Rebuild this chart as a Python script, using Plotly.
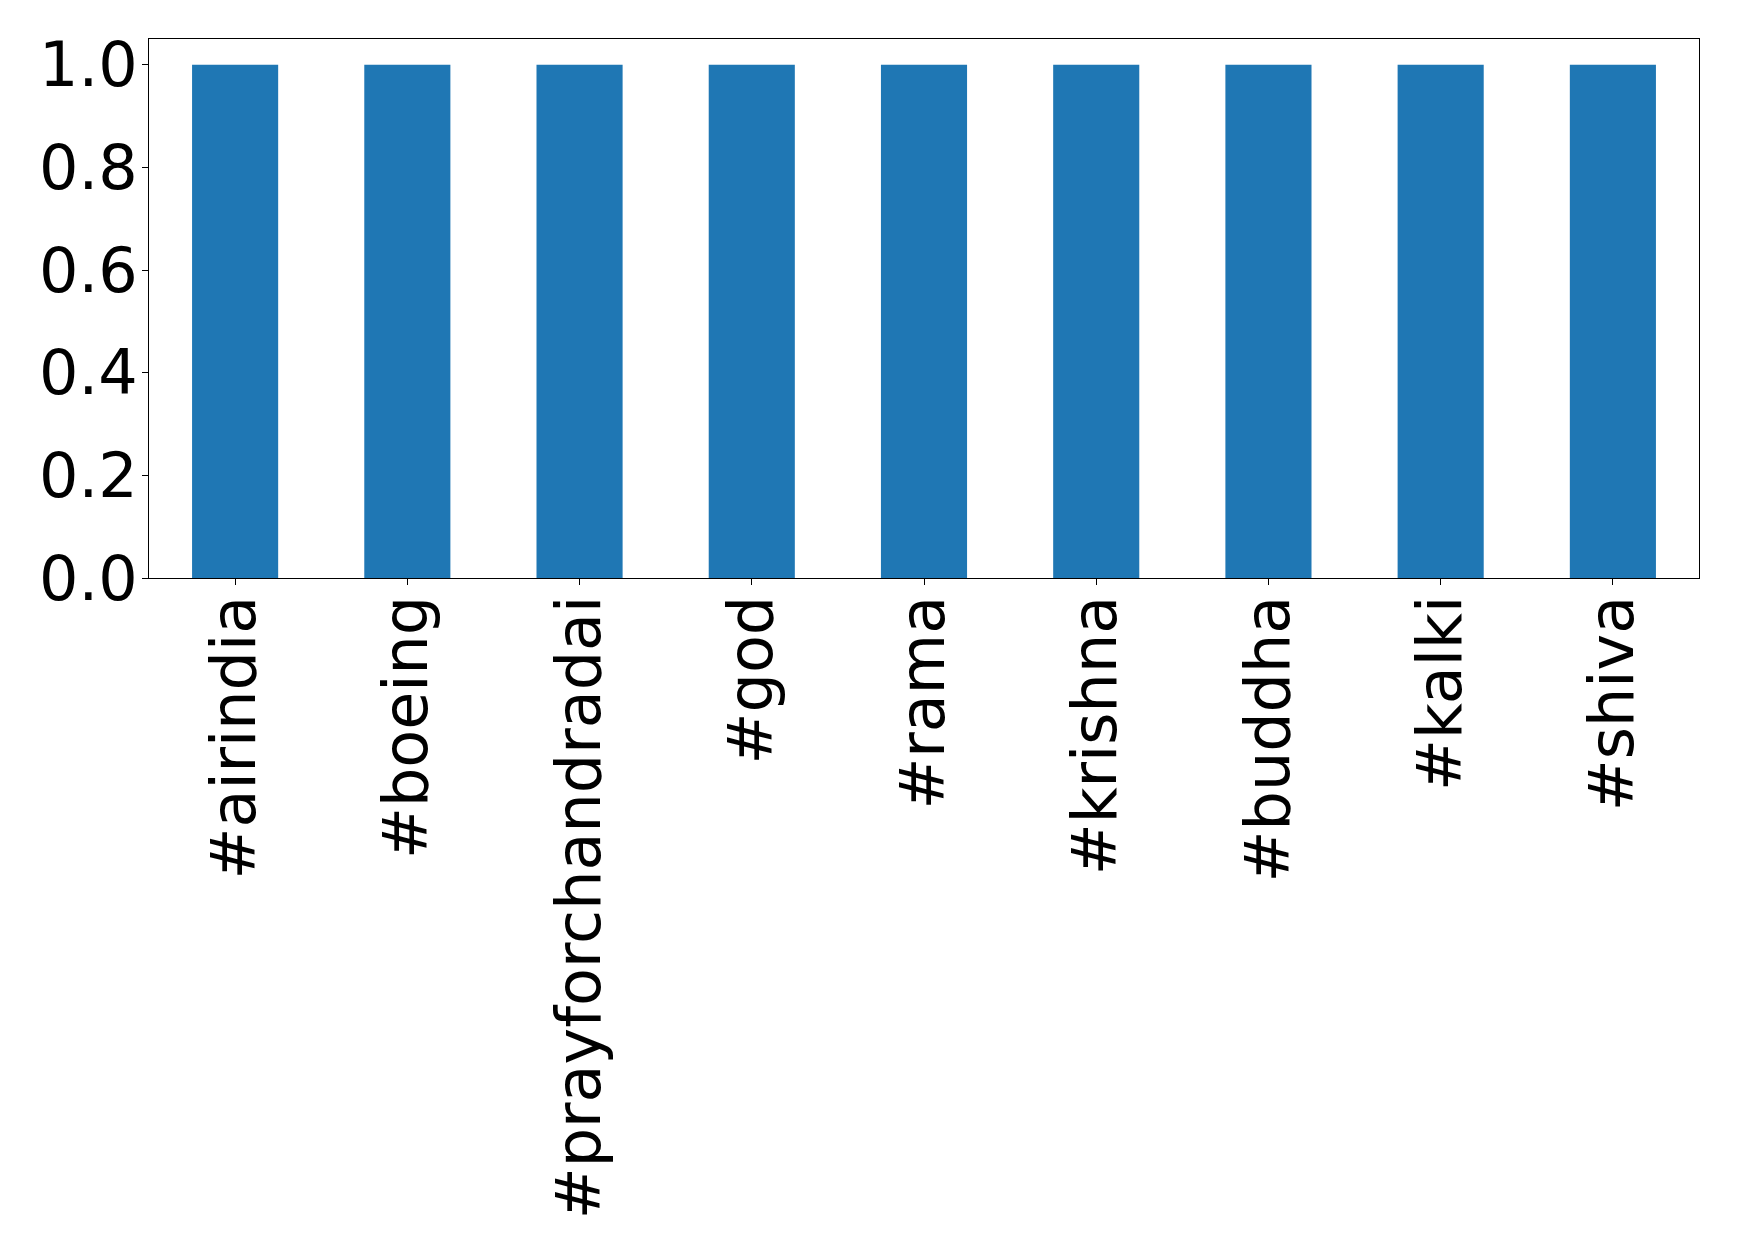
import plotly.graph_objects as go

categories = ["#airindia", "#boeing", "#prayforchandradai", "#god", "#rama",
              "#krishna", "#buddha", "#kalki", "#shiva"]
values = [1, 1, 1, 1, 1, 1, 1, 1, 1]
y_ticks = [0.0, 0.2, 0.4, 0.6, 0.8, 1.0]
y_tick_labels = ["0.0", "0.2", "0.4", "0.6", "0.8", "1.0"]

fig = go.Figure(go.Bar(x=categories, y=values, marker_color="#1f77b4",
                       marker_line_width=0, width=0.5))

fig.update_layout(
    width=1739, height=1256,
    margin=dict(l=141, r=48, t=31, b=686, autoexpand=False),
    paper_bgcolor="white", plot_bgcolor="white",
    font=dict(family="DejaVu Sans", size=62, color="black"),
    showlegend=False,
    bargap=0.5,
)
fig.update_xaxes(
    range=[-0.5, 8.5], tickangle=-90, showline=True, linecolor="black",
    linewidth=1, mirror=True, ticks="outside", ticklen=6, tickcolor="black",
    showgrid=False, tickfont=dict(size=62), zeroline=False, automargin=False,
    ticklabelstandoff=-14,
)
fig.update_yaxes(
    range=[0, 1.05], tickvals=y_ticks, ticktext=y_tick_labels,
    showline=True, linecolor="black", linewidth=1, mirror=True,
    ticks="outside", ticklen=6, tickcolor="black", showgrid=False,
    zeroline=False, tickfont=dict(size=62), automargin=False,
    ticklabelstandoff=-8,
)

fig.write_html("out.html")
